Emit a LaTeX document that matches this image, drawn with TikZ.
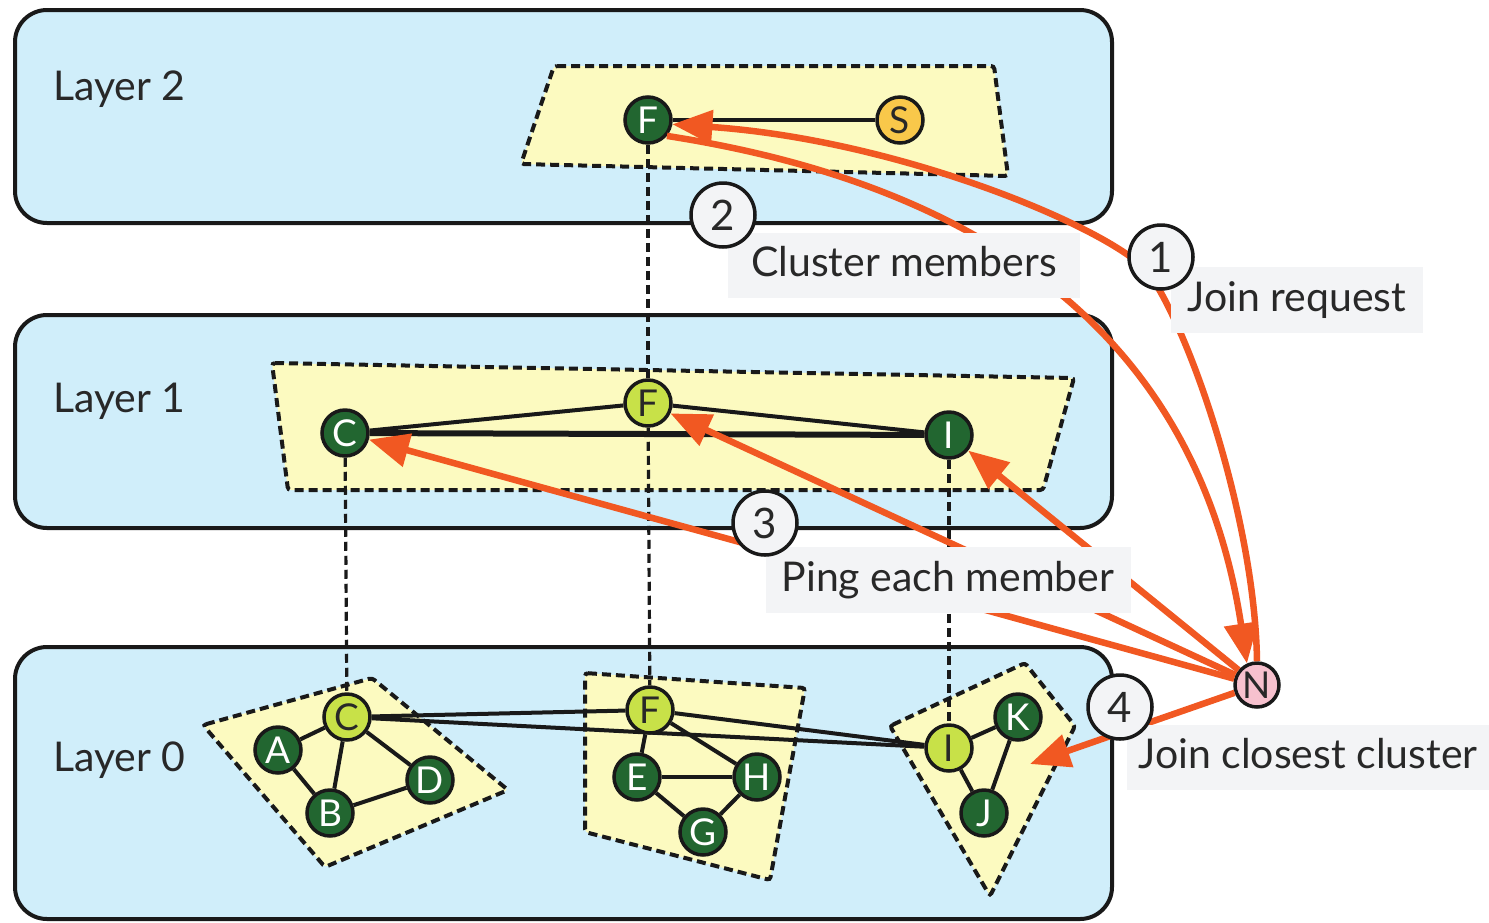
\documentclass[tikz,border=0pt]{standalone}
\usepackage{fontspec}
\setmainfont{Lato}
\usetikzlibrary{arrows.meta}
\definecolor{layerblue}{RGB}{208,238,250}
\definecolor{clusteryellow}{RGB}{252,250,192}
\definecolor{darkgreen}{RGB}{34,102,48}
\definecolor{lightgreen}{RGB}{200,225,72}
\definecolor{sorange}{RGB}{249,200,74}
\definecolor{npink}{RGB}{247,193,206}
\definecolor{arrowred}{RGB}{241,88,34}
\definecolor{labelgray}{RGB}{243,244,246}
\definecolor{textdark}{RGB}{40,40,40}
\definecolor{linedark}{RGB}{25,25,25}
\pgfdeclarelayer{bg}
\pgfdeclarelayer{edges}
\pgfdeclarelayer{arrowlayer}
\pgfdeclarelayer{fg}
\pgfsetlayers{bg,edges,main,arrowlayer,fg}
\begin{document}
\begin{tikzpicture}[x=1pt,y=-1pt,
  layerbox/.style={draw=linedark, line width=4pt, fill=layerblue, rounded corners=32pt},
  clusterpoly/.style={draw=linedark, line width=4pt, fill=clusteryellow, dash pattern=on 9pt off 5pt, rounded corners=3pt},
  vdash/.style={draw=linedark, line width=3.2pt, dash pattern=on 9pt off 5pt},
  edge/.style={draw=linedark, line width=4pt},
  member/.style={circle, draw=linedark, line width=3.5pt, fill=darkgreen, text=white, minimum size=46pt, inner sep=0pt, font=\fontsize{37}{37}\selectfont},
  head/.style={member, fill=lightgreen, text=textdark},
  layertext/.style={anchor=base west, text=textdark, inner sep=0pt, font=\fontsize{41}{50}\selectfont},
  lbl/.style={fill=labelgray, text=textdark, inner sep=0pt, text height=30pt, text depth=8pt, font=\fontsize{41}{50}\selectfont},
  numc/.style={circle, draw=linedark, line width=3.5pt, fill=labelgray, text=textdark, minimum size=64pt, inner sep=0pt, font=\fontsize{42}{50}\selectfont},
  oarrow/.style={draw=arrowred, line width=6.5pt, -{Triangle[length=40pt,width=33pt]}}
]
\useasboundingbox (0,0) rectangle (1489,922);

% layer boxes
\begin{pgfonlayer}{bg}
\draw[layerbox] (15,10) rectangle (1112,223);
\draw[layerbox] (15,315) rectangle (1112,528);
\draw[layerbox] (15,647) rectangle (1112,919);
% cluster polygons
\draw[clusterpoly] (554,66) -- (994,66) -- (1008,176) -- (521,164) -- cycle;
\draw[clusterpoly] (272,363) -- (1074,378) -- (1043,490) -- (288,490) -- cycle;
\draw[clusterpoly] (203,725) -- (372,678) -- (508,790) -- (325,867) -- cycle;
\draw[clusterpoly] (585,673) -- (805,688) -- (770,880) -- (585,832) -- cycle;
\draw[clusterpoly] (890,726) -- (1025,663) -- (1075,726) -- (990,896) -- cycle;
\end{pgfonlayer}

\node[layertext] (l2) at (53,100) {Layer 2};
\node[layertext] (l1) at (53,412) {Layer 1};
\node[layertext] (l0) at (53,771) {Layer 0};

% nodes
\node[member] (F2) at (648,120) {F};
\node[member, fill=sorange, text=textdark] (S) at (900,120) {S};
\node[member] (C1) at (345,433) {C};
\node[head] (F1) at (648,403) {F};
\node[member] (I1) at (949,435) {I};
\node[head] (C0) at (347,717) {C};
\node[member] (A) at (278,750) {A};
\node[member] (B) at (330,813) {B};
\node[member] (D) at (430,780) {D};
\node[head] (F0) at (650,710) {F};
\node[member] (E) at (637,777) {E};
\node[member] (H) at (757,777) {H};
\node[member] (G) at (703,832) {G};
\node[head] (I0) at (949,748) {I};
\node[member] (K) at (1018,717) {K};
\node[member] (J) at (984,813) {J};
\node[member, fill=npink, text=textdark, minimum size=44pt] (N) at (1257,685) {N};
\coordinate (t4) at (1030,764);

% edges
\begin{pgfonlayer}{edges}
\draw[vdash] (F2) -- (F1);
\draw[vdash] (F1) -- (F0);
\draw[vdash] (C1) -- (C0);
\draw[vdash] (I1) -- (I0);
\draw[edge] (F2) -- (S);
\draw[edge] (C1) -- (F1);
\draw[edge] (F1) -- (I1);
\draw[edge, line width=6pt] (C1) -- (I1);
\draw[edge] (C0) -- (F0);
\draw[edge] (C0) -- (I0);
\draw[edge] (F0) -- (I0);
\draw[edge] (C0) -- (A);
\draw[edge] (C0) -- (B);
\draw[edge] (C0) -- (D);
\draw[edge] (A) -- (B);
\draw[edge] (B) -- (D);
\draw[edge] (F0) -- (E);
\draw[edge] (F0) -- (H);
\draw[edge] (E) -- (H);
\draw[edge] (E) -- (G);
\draw[edge] (H) -- (G);
\draw[edge] (I0) -- (K);
\draw[edge] (I0) -- (J);
\draw[edge] (K) -- (J);
\end{pgfonlayer}

% orange arrows
\begin{pgfonlayer}{arrowlayer}
\draw[oarrow] (N.north) .. controls (1255,520) and (1190,330) .. (1148,272) .. controls (1110,228) and (900,140) .. (F2.-10);
\draw[oarrow] (F2.-40) .. controls (1080,200) and (1210,420) .. (N.115);
\draw[oarrow] (N) -- (C1);
\draw[oarrow] (N) -- (F1);
\draw[oarrow] (N) -- (I1);
\draw[oarrow] (N) -- (t4);
\end{pgfonlayer}

% labels and step numbers
\begin{pgfonlayer}{fg}
\node[lbl, minimum width=352pt, minimum height=65pt] (lcm) at (904,265.5) {Cluster members};
\node[lbl, minimum width=252pt, minimum height=66pt] (ljr) at (1297,300) {Join request};
\node[lbl, minimum width=365pt, minimum height=66pt] (lpe) at (948,580) {Ping each member};
\node[lbl, minimum width=362pt, minimum height=65pt] (ljc) at (1308,757.5) {Join closest cluster};
\node[numc] (n1) at (1161,257) {1};
\node[numc] (n2) at (723,215) {2};
\node[numc] (n3) at (765,523) {3};
\node[numc] (n4) at (1120,707) {4};
\end{pgfonlayer}
\end{tikzpicture}
\end{document}
